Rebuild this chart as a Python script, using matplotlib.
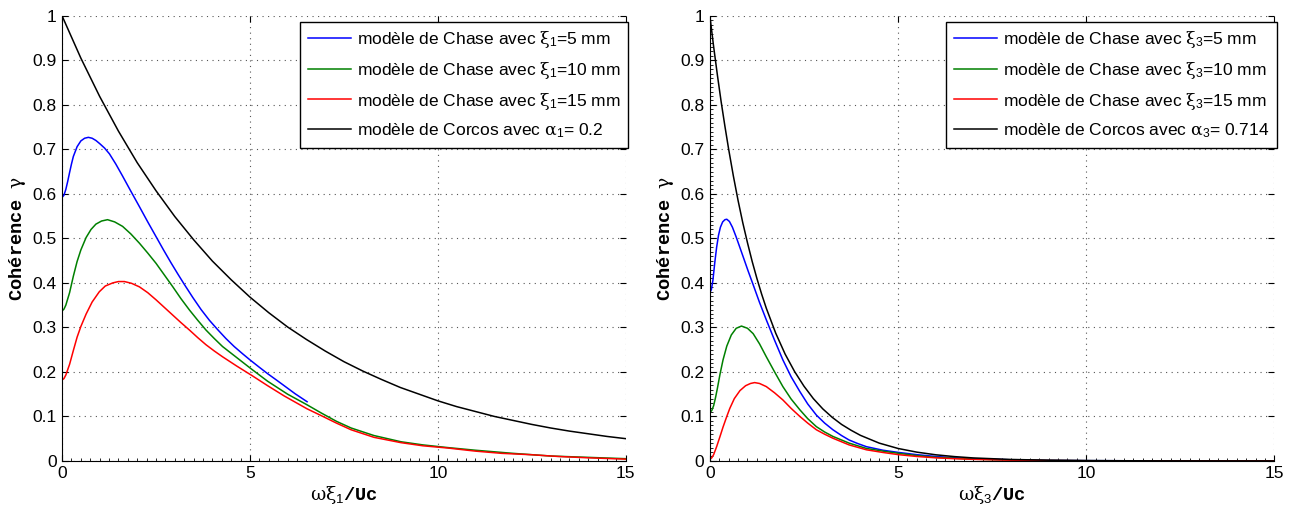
import numpy as np
import matplotlib
matplotlib.use('Agg')
import matplotlib.pyplot as plt
from matplotlib.ticker import MultipleLocator

plt.rcParams['font.family'] = ['Liberation Sans', 'DejaVu Sans']
plt.rcParams['mathtext.fontset'] = 'custom'
plt.rcParams['mathtext.rm'] = 'Liberation Sans'
plt.rcParams['mathtext.it'] = 'DejaVu Serif'   # upright serif greek, like the Symbol font
plt.rcParams['mathtext.bf'] = 'Liberation Sans:bold'

# ---- left panel (xi_1) ----
x1_b5 = [0, 0.05, 0.1, 0.15, 0.2, 0.25, 0.3, 0.4, 0.5, 0.6, 0.7, 0.8, 0.9, 1.0, 1.13, 1.26, 1.43, 1.61, 1.83,
         2.06, 2.28, 2.5, 2.7, 2.9, 3.08, 3.25, 3.48, 3.7, 3.92, 4.14, 4.36, 4.58, 4.8, 5.0, 5.24, 5.47, 5.7,
         5.91, 6.2, 6.52]
y1_b5 = [0.592, 0.597, 0.610, 0.628, 0.648, 0.667, 0.684, 0.706, 0.719, 0.725, 0.727, 0.725, 0.720, 0.713,
         0.703, 0.690, 0.667, 0.640, 0.606, 0.571, 0.537, 0.504, 0.474, 0.445, 0.420, 0.397, 0.367, 0.340,
         0.316, 0.295, 0.275, 0.257, 0.241, 0.227, 0.211, 0.196, 0.182, 0.169, 0.151, 0.133]

x1_g10 = [0, 0.05, 0.1, 0.2, 0.3, 0.4, 0.5, 0.64, 0.77, 0.9, 1.05, 1.21, 1.4, 1.61, 1.83, 2.06, 2.28, 2.5,
          2.72, 2.94, 3.16, 3.39, 3.61, 3.83, 4.05, 4.27, 4.65, 5.03, 5.47, 6.0, 6.52, 6.89, 7.3, 7.69, 8.3,
          9.02, 9.6, 10.26, 11, 12, 13, 14, 15]
y1_g10 = [0.337, 0.341, 0.350, 0.378, 0.415, 0.448, 0.474, 0.502, 0.520, 0.532, 0.539, 0.542, 0.537, 0.527,
          0.510, 0.489, 0.467, 0.444, 0.418, 0.392, 0.365, 0.339, 0.316, 0.294, 0.275, 0.257, 0.232, 0.207,
          0.179, 0.150, 0.126, 0.108, 0.089, 0.074, 0.057, 0.043, 0.036, 0.030, 0.024, 0.017, 0.011, 0.008,
          0.005]

x1_r15 = [0, 0.05, 0.1, 0.2, 0.3, 0.4, 0.5, 0.64, 0.8, 0.99, 1.15, 1.35, 1.5, 1.66, 1.85, 2.06, 2.28, 2.5,
          2.72, 2.94, 3.16, 3.39, 3.61, 3.83, 4.05, 4.27, 4.65, 5.03, 5.47, 5.91, 6.52, 6.89, 7.3, 7.69, 8.3,
          9.02, 9.6, 10.26, 11, 11.7, 12.47, 13.2, 14, 15]
y1_r15 = [0.182, 0.185, 0.193, 0.217, 0.248, 0.278, 0.302, 0.330, 0.357, 0.380, 0.393, 0.400, 0.403, 0.403,
          0.399, 0.391, 0.378, 0.362, 0.345, 0.328, 0.311, 0.294, 0.277, 0.261, 0.247, 0.234, 0.213, 0.193,
          0.169, 0.146, 0.117, 0.102, 0.085, 0.070, 0.053, 0.041, 0.034, 0.029, 0.022, 0.017, 0.014, 0.010,
          0.007, 0.004]

x1_corcos = [0, 0.5, 1, 1.5, 2, 2.5, 3, 3.5, 4, 4.5, 5, 5.5, 6, 6.5, 7, 7.5, 8, 8.5, 9, 9.5, 10, 10.5, 11,
             11.5, 12, 12.5, 13, 13.5, 14, 14.5, 15]
y1_corcos = [1.0, 0.905, 0.819, 0.741, 0.670, 0.607, 0.549, 0.497, 0.449, 0.407, 0.368, 0.333, 0.301, 0.273,
             0.247, 0.223, 0.202, 0.183, 0.165, 0.150, 0.135, 0.122, 0.111, 0.100, 0.091, 0.082, 0.074,
             0.067, 0.061, 0.055, 0.050]

# ---- right panel (xi_3) ----
x3_b5 = [0, 0.04, 0.08, 0.13, 0.18, 0.23, 0.28, 0.34, 0.4, 0.45, 0.52, 0.6, 0.7, 0.8, 0.9, 1.02, 1.15, 1.32,
         1.5, 1.72, 1.94, 2.16, 2.39, 2.6, 2.83, 3.05, 3.27, 3.5, 3.7, 3.93, 4.16, 4.6, 5.02, 5.5, 6, 6.5, 7,
         8, 9, 10, 12, 15]
y3_b5 = [0.378, 0.385, 0.405, 0.445, 0.480, 0.507, 0.525, 0.537, 0.542, 0.543, 0.538, 0.525, 0.503, 0.479,
         0.455, 0.426, 0.396, 0.356, 0.317, 0.271, 0.227, 0.189, 0.156, 0.128, 0.103, 0.085, 0.070, 0.057,
         0.047, 0.039, 0.032, 0.024, 0.019, 0.014, 0.010, 0.007, 0.005, 0.0025, 0.0012, 0.0006, 0.0001, 0.0]

x3_g10 = [0, 0.05, 0.1, 0.15, 0.2, 0.27, 0.35, 0.45, 0.57, 0.7, 0.84, 1.0, 1.15, 1.32, 1.5, 1.72, 1.94,
          2.16, 2.39, 2.6, 2.83, 3.05, 3.27, 3.7, 4.16, 4.6, 5.02, 5.5, 6, 6.5, 7, 8, 9, 10, 12, 15]
y3_g10 = [0.109, 0.113, 0.124, 0.142, 0.163, 0.195, 0.227, 0.258, 0.283, 0.298, 0.303, 0.298, 0.286, 0.263,
          0.234, 0.200, 0.167, 0.139, 0.115, 0.095, 0.077, 0.065, 0.055, 0.040, 0.028, 0.022, 0.017, 0.012,
          0.008, 0.006, 0.004, 0.002, 0.001, 0.0005, 0.0001, 0.0]

x3_r15 = [0, 0.05, 0.1, 0.18, 0.27, 0.35, 0.45, 0.53, 0.65, 0.8, 0.95, 1.08, 1.19, 1.32, 1.5, 1.72, 1.94,
          2.16, 2.39, 2.6, 2.83, 3.05, 3.27, 3.7, 4.16, 4.6, 5.02, 5.5, 6, 6.5, 7, 8, 9, 10, 12, 15]
y3_r15 = [0.004, 0.007, 0.014, 0.032, 0.055, 0.076, 0.100, 0.118, 0.140, 0.158, 0.169, 0.174, 0.176, 0.174,
          0.167, 0.153, 0.137, 0.118, 0.100, 0.085, 0.070, 0.060, 0.051, 0.036, 0.025, 0.019, 0.014, 0.010,
          0.007, 0.005, 0.0035, 0.0017, 0.0008, 0.0004, 0.0001, 0.0]

x3_corcos = [0, 0.1, 0.2, 0.3, 0.4, 0.5, 0.625, 0.75, 0.875, 1, 1.125, 1.25, 1.375, 1.5, 1.75, 2, 2.25, 2.5,
             2.75, 3, 3.25, 3.5, 3.75, 4, 4.5, 5, 5.5, 6, 6.5, 7, 8, 9, 10, 11, 12, 13, 15]
y3_corcos = [1.0, 0.931, 0.867, 0.807, 0.752, 0.700, 0.640, 0.585, 0.535, 0.490, 0.448, 0.410, 0.375, 0.343,
             0.287, 0.240, 0.201, 0.168, 0.140, 0.117, 0.098, 0.082, 0.069, 0.0575, 0.040, 0.028, 0.0197,
             0.0138, 0.0097, 0.0067, 0.0033, 0.0016, 0.0008, 0.0004, 0.0002, 0.0001, 0.0]

labels_1 = [r'modèle de Chase avec $\xi_1$=5 mm',
            r'modèle de Chase avec $\xi_1$=10 mm',
            r'modèle de Chase avec $\xi_1$=15 mm',
            r'modèle de Corcos avec $\alpha_1$= 0.2']
labels_3 = [r'modèle de Chase avec $\xi_3$=5 mm',
            r'modèle de Chase avec $\xi_3$=10 mm',
            r'modèle de Chase avec $\xi_3$=15 mm',
            r'modèle de Corcos avec $\alpha_3$= 0.714']

colors = ['#0000ff', '#008000', '#ff0000', '#000000']

fig = plt.figure(figsize=(12.93, 5.11), dpi=100)
ax1 = fig.add_axes([0.048, 0.098, 0.436, 0.871])
ax2 = fig.add_axes([0.549, 0.098, 0.4366, 0.871])


def style_axis(ax, xlab, labels, minor_y):
    ax.set_xlim(0, 15)
    ax.set_ylim(0, 1)
    ax.xaxis.set_major_locator(MultipleLocator(5))
    ax.yaxis.set_major_locator(MultipleLocator(0.1))
    ax.yaxis.set_major_formatter(plt.FuncFormatter(lambda v, p: '%g' % round(v, 2)))
    ax.xaxis.set_minor_locator(MultipleLocator(0.25))
    if minor_y:
        ax.yaxis.set_minor_locator(MultipleLocator(0.01))
    ax.tick_params(which='both', direction='in', top=True, right=True, labelsize=12.5)
    ax.tick_params(which='major', length=4, width=0.8, pad=4)
    ax.tick_params(which='minor', length=2, width=0.6, top=False, right=False)
    ax.spines['top'].set_visible(False)
    ax.spines['right'].set_visible(False)
    ax.grid(True, which='major', linestyle=(0, (1, 4)), color='#555555', linewidth=0.8)
    ax.set_xlabel(xlab, family='Liberation Mono', fontweight='bold', fontsize=13.5, labelpad=2)
    ax.set_ylabel('Cohérence $\\gamma$', family='Liberation Mono', fontweight='bold', fontsize=13.5, labelpad=3)
    leg = ax.legend(labels, loc='upper right', bbox_to_anchor=(1.004, 0.987), borderaxespad=0,
                    fontsize=12.5, handlelength=2.45, handletextpad=0.35, labelspacing=0.55,
                    fancybox=False, framealpha=1, edgecolor='black', borderpad=0.45)
    leg.get_frame().set_linewidth(1.0)


for xs, ys, c in zip([x1_b5, x1_g10, x1_r15, x1_corcos], [y1_b5, y1_g10, y1_r15, y1_corcos], colors):
    ax1.plot(xs, ys, color=c, linewidth=1.1)
for xs, ys, c in zip([x3_b5, x3_g10, x3_r15, x3_corcos], [y3_b5, y3_g10, y3_r15, y3_corcos], colors):
    ax2.plot(xs, ys, color=c, linewidth=1.1)

style_axis(ax1, r'$\omega\xi_1$/Uc', labels_1, False)
style_axis(ax2, r'$\omega\xi_3$/Uc', labels_3, True)

fig.savefig('out.png', dpi=100)
